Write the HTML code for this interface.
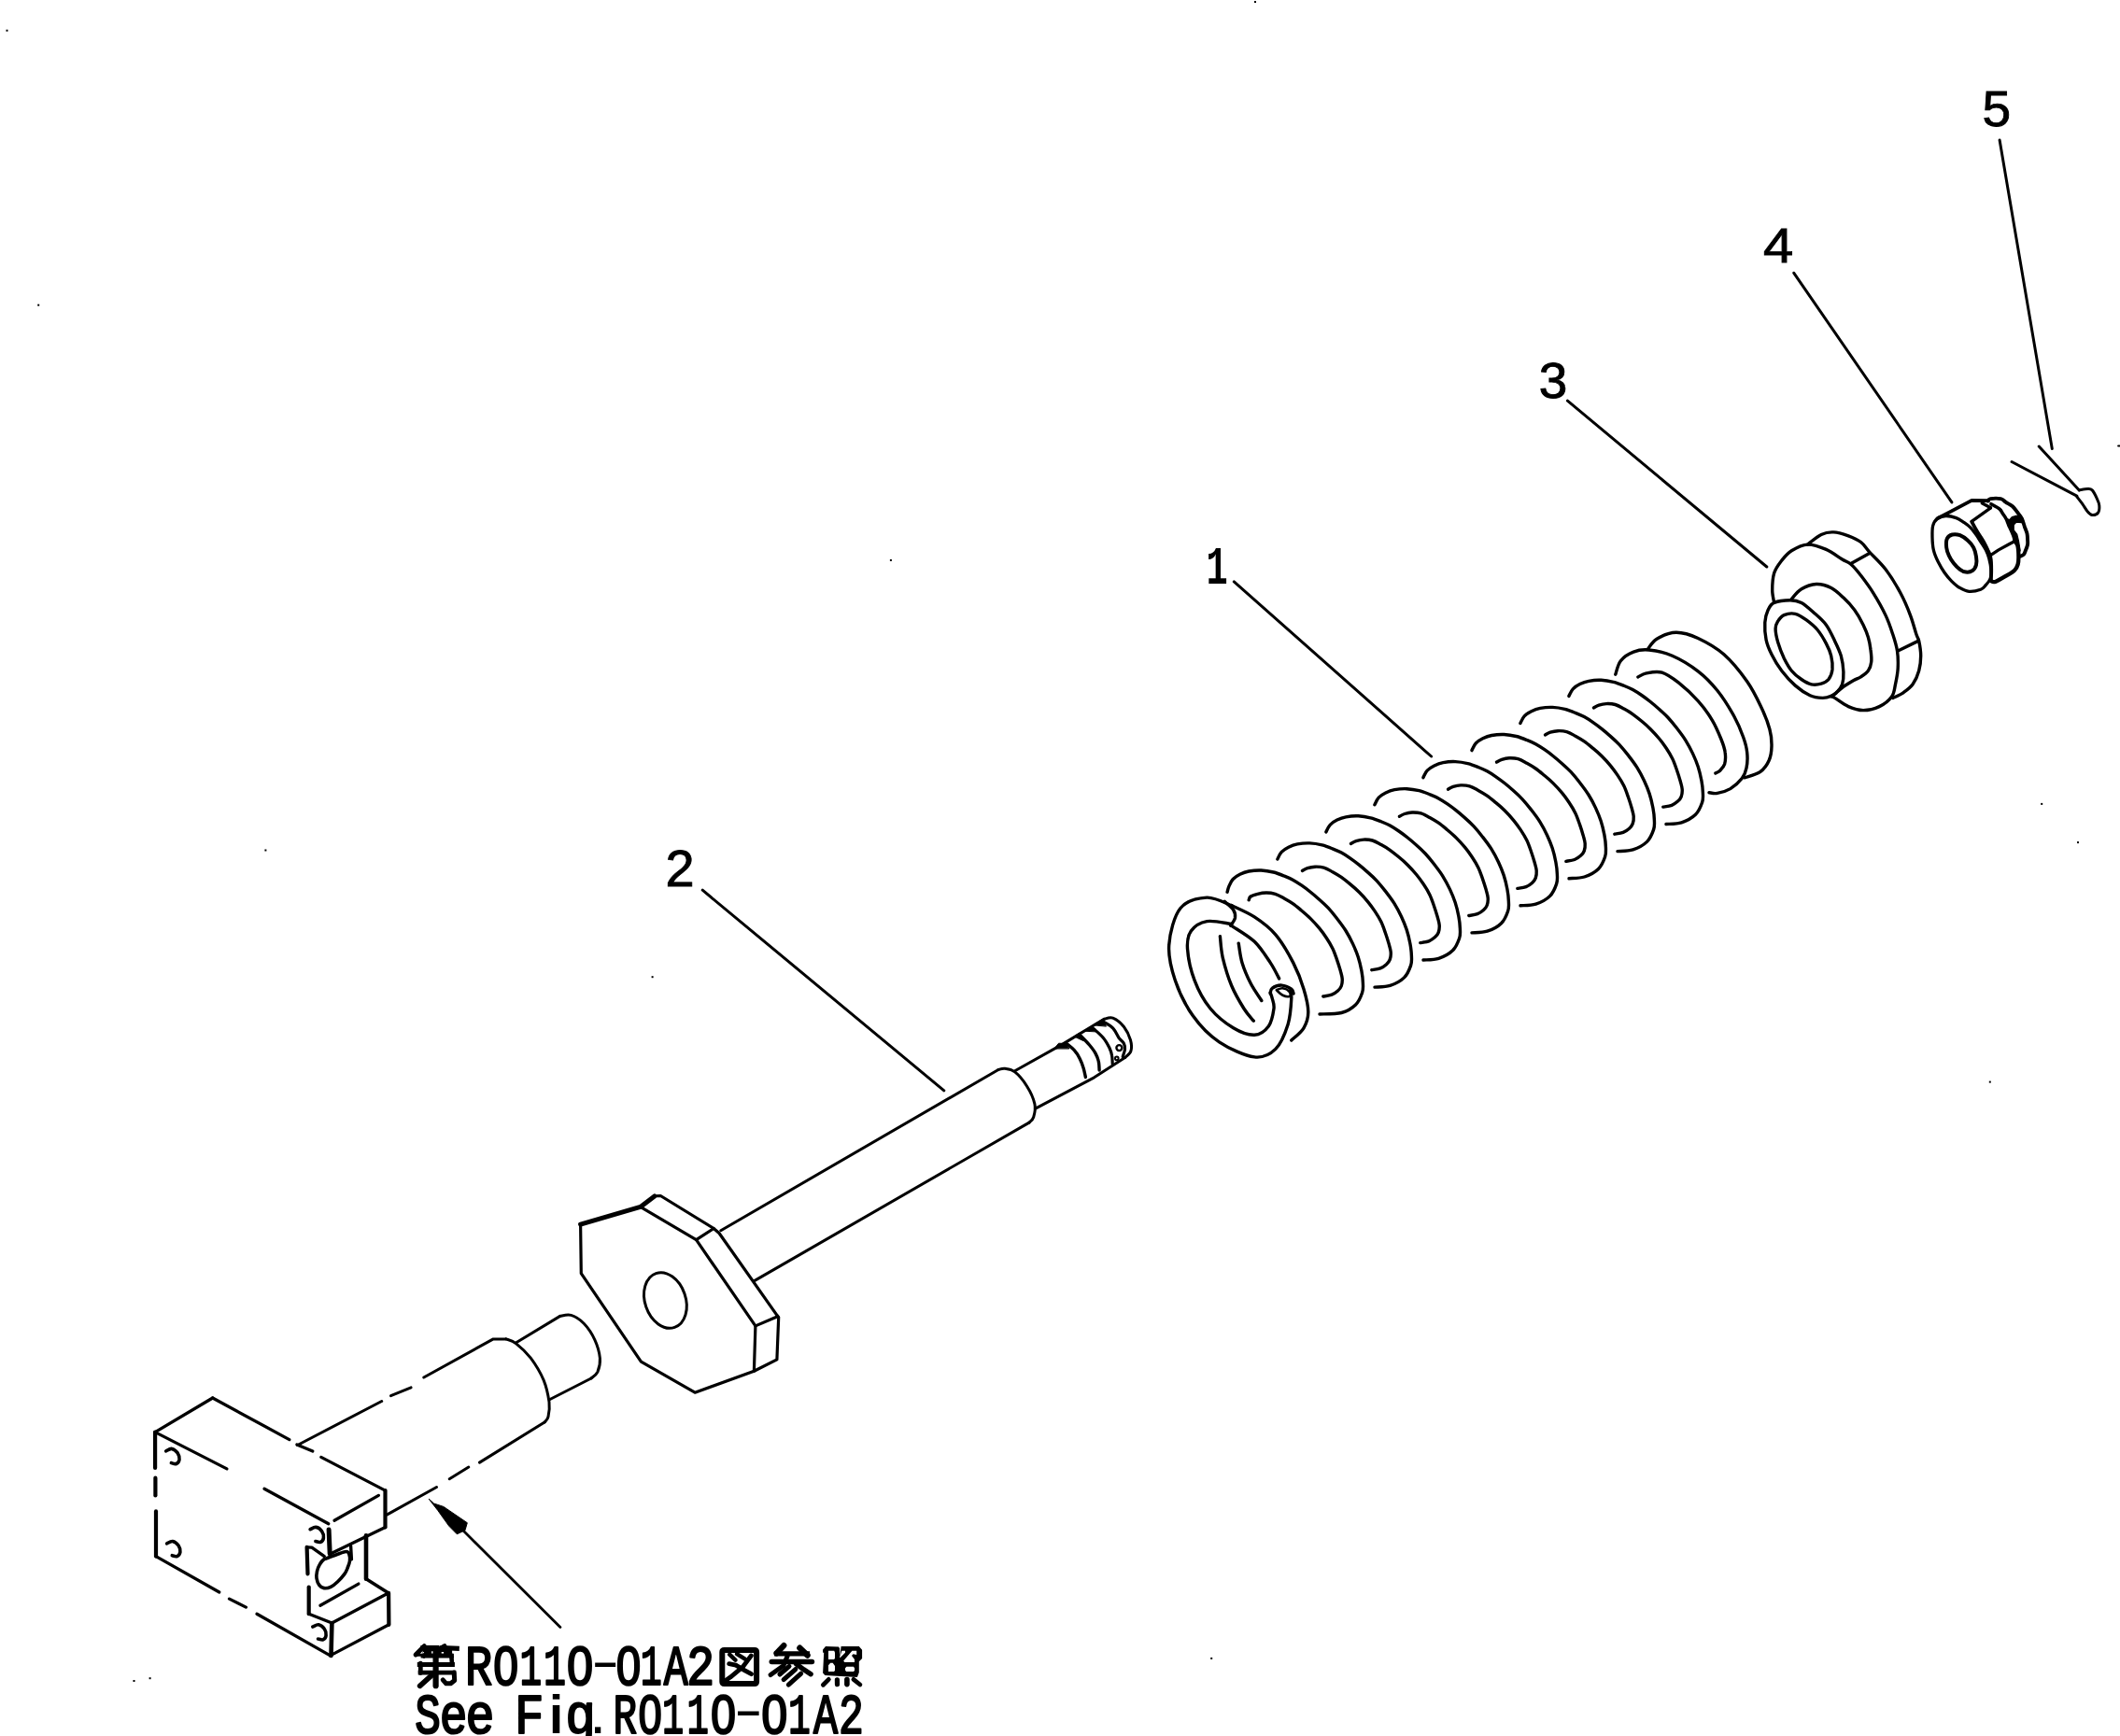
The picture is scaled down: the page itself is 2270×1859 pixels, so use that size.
<!DOCTYPE html>
<html lang="ja"><head><meta charset="utf-8"><title>Parts diagram R0110-01A2</title>
<style>
html,body{margin:0;padding:0;background:#fff}
body{width:2270px;height:1859px;overflow:hidden;font-family:"Liberation Sans",sans-serif}
svg{display:block;will-change:transform}
.l{fill:none;stroke:#000;stroke-width:3.0;stroke-linecap:round;stroke-linejoin:round}
text{fill:#000}
</style></head><body>
<svg width="2270" height="1859" viewBox="0 0 2270 1859">
<rect width="2270" height="1859" fill="#fff"/>
<g class="l">
<path d="M166.1 1533.6L166.1 1572.0" stroke-width="4.2"/>
<path d="M166.4 1582.7L166.4 1601.4" stroke-width="4.2"/>
<path d="M167.0 1618.4L167.0 1666.6" stroke-width="4.2"/>
<path d="M166.1 1533.6L227.7 1497.0" stroke-width="3.3"/>
<path d="M227.7 1497.0L309.8 1541.6" stroke-width="3.3"/>
<path d="M317.9 1547.0L334.8 1554.1" stroke-width="3.3"/>
<path d="M343.8 1560.4L412.5 1596.1" stroke-width="3.3"/>
<path d="M166.1 1533.6L242.9 1572.9" stroke-width="3.3"/>
<path d="M283.0 1594.3L351.8 1631.8" stroke-width="3.3"/>
<path d="M167.0 1666.6L234.8 1705.0" stroke-width="3.3"/>
<path d="M245.5 1712.1L263.4 1721.1" stroke-width="3.3"/>
<path d="M275.0 1728.2L353.6 1772.9" stroke-width="3.3"/>
<path d="M412.5 1596.1L412.5 1635.4" stroke-width="4.2"/>
<path d="M412.5 1635.4L353.6 1663.9" stroke-width="3.3"/>
<path d="M358.0 1628.2L405.4 1601.4" stroke-width="3.3"/>
<path d="M352.1 1638.0L353.2 1663.9" stroke-width="5.0"/>
<path d="M329.5 1685.4L328.6 1656.8" stroke-width="4.2"/>
<path d="M328.6 1656.8L333.9 1657.1L347.3 1666.6" stroke-width="3.3"/>
<path d="M330.7 1699.6L330.7 1728.2" stroke-width="4.2"/>
<path d="M330.7 1728.2L355.4 1738.0" stroke-width="3.3"/>
<path d="M355.4 1738.0L414.3 1706.8" stroke-width="3.3"/>
<path d="M416.1 1705.9L416.4 1739.8" stroke-width="4.2"/>
<path d="M416.4 1739.8L353.6 1772.9" stroke-width="3.3"/>
<path d="M355.4 1738.0L354.5 1772.9" stroke-width="4.6"/>
<path d="M392.0 1644.3L392.0 1690.7" stroke-width="4.6"/>
<path d="M392.0 1690.7L416.1 1705.9" stroke-width="3.6"/>
<path d="M342.9 1719.3L383.9 1696.1" stroke-width="3.3"/>
<path d="M349.6 1668.8C352.1 1667.9 358.1 1665.5 361.6 1664.2C365.1 1663.0 368.8 1661.5 370.8 1661.5C372.9 1661.5 373.2 1662.5 373.8 1664.2C374.4 1665.9 374.9 1669.0 374.5 1671.6C374.2 1674.2 372.7 1677.6 371.8 1679.9C370.8 1682.2 370.7 1683.1 369.0 1685.4C367.3 1687.7 364.1 1691.4 361.6 1693.7C359.2 1696.0 356.7 1698.1 354.2 1699.3C351.8 1700.4 348.9 1701.0 346.9 1700.6C344.8 1700.3 343.1 1699.2 341.8 1697.4C340.5 1695.7 339.4 1692.5 339.0 1690.0C338.6 1687.6 339.0 1685.1 339.5 1682.7C340.0 1680.2 341.0 1677.5 342.3 1675.3C343.5 1673.1 345.6 1670.8 346.9 1669.8C348.1 1668.7 347.2 1669.8 349.6 1668.8Z" stroke-width="3.6"/>
<path d="M375.6 1655.5L376.4 1669.8" stroke-width="3.4"/>
<path d="M177.7 1553.8C178.7 1553.4 181.8 1551.1 183.9 1551.4C186.0 1551.8 188.8 1554.0 190.2 1555.9C191.5 1557.8 192.2 1561.1 192.0 1563.0C191.7 1565.0 190.2 1566.9 188.8 1567.5C187.3 1568.1 184.3 1566.8 183.4 1566.6" stroke-width="3.6"/>
<path d="M178.6 1652.9C179.6 1652.5 182.7 1650.2 184.8 1650.5C186.9 1650.9 189.7 1653.1 191.1 1655.0C192.4 1656.9 193.1 1660.2 192.9 1662.1C192.6 1664.1 191.1 1666.0 189.6 1666.6C188.2 1667.2 185.2 1665.9 184.3 1665.7" stroke-width="3.6"/>
<path d="M332.1 1637.7C333.2 1637.3 336.3 1635.0 338.4 1635.4C340.5 1635.7 343.3 1637.9 344.6 1639.8C346.0 1641.8 346.7 1645.0 346.4 1647.0C346.2 1648.9 344.6 1650.8 343.2 1651.4C341.8 1652.0 338.8 1650.7 337.9 1650.5" stroke-width="3.6"/>
<path d="M334.8 1742.1C335.9 1741.8 339.0 1739.5 341.1 1739.8C343.2 1740.2 346.0 1742.4 347.3 1744.3C348.7 1746.2 349.3 1749.5 349.1 1751.4C348.9 1753.4 347.3 1755.3 345.9 1755.9C344.5 1756.5 341.4 1755.1 340.5 1755.0" stroke-width="3.6"/>
<path d="M318.6 1547.5L408.7 1500.5"/>
<path d="M418.5 1494.6L440.1 1485.8"/>
<path d="M453.8 1475.0L528.2 1433.9L541.9 1433.9"/>
<path d="M541.9 1433.9C543.7 1434.7 548.3 1435.3 552.7 1438.8C557.1 1442.2 563.5 1447.9 568.4 1454.4C573.3 1461.0 578.8 1470.1 582.1 1477.9C585.3 1485.8 587.1 1494.9 588.0 1501.4C588.8 1508.0 587.8 1513.5 587.0 1517.1C586.2 1520.7 583.7 1522.0 583.1 1523.0"/>
<path d="M583.1 1523.0L513.5 1566.1"/>
<path d="M501.8 1571.0L481.2 1583.7"/>
<path d="M467.5 1592.5L414.6 1621.9"/>
<path d="M552.7 1437.8L599.7 1409.4"/>
<path d="M599.7 1409.4C601.7 1409.2 607.2 1407.1 611.5 1408.4C615.7 1409.7 620.9 1412.8 625.2 1417.2C629.4 1421.6 634.1 1428.6 636.9 1434.8C639.8 1441.1 641.9 1448.7 642.4 1454.4C642.9 1460.2 641.4 1465.5 639.9 1469.1C638.3 1472.7 634.1 1474.8 633.0 1476.0"/>
<path d="M633.0 1476.0L588.9 1498.5"/>
<path d="M459.4 1605.3L464.6 1610.0L474.9 1613.4L500.3 1630.7L498.0 1638.7L489.3 1642.8L480.7 1634.1L469.2 1618.0Z" stroke-width="1.0" fill="#000"/>
<path d="M494.5 1637.6L599.9 1742.4" stroke-width="2.8"/>
<path d="M621.6 1311.1L685.7 1292.4L700.8 1280.9" stroke-width="5.0"/>
<path d="M700.8 1280.9L707.3 1280.5L764.2 1315.5L770.0 1320.5L831.9 1408.4L833.7 1410.5L831.9 1455.9L807.4 1468.2L744.1 1491.2L686.4 1458.1L622.3 1363.7L621.6 1311.1" stroke-width="3.2"/>
<path d="M685.7 1292.4L745.5 1327.7L808.9 1419.9L807.4 1468.2" stroke-width="3.2"/>
<path d="M745.5 1327.7L764.2 1315.5" stroke-width="3.2"/>
<path d="M808.9 1419.9L832.6 1409.8" stroke-width="3.2"/>
<ellipse cx="712.4" cy="1392.5" rx="21.8" ry="30.6" transform="rotate(-19.0 712.4 1392.5)"/>
<path d="M771.8 1317.7L1069.0 1145.5"/>
<path d="M1069.0 1145.5C1070.1 1145.3 1073.1 1143.9 1076.0 1144.3C1079.0 1144.7 1082.7 1144.7 1086.7 1147.9C1090.6 1151.0 1096.1 1157.5 1099.6 1163.2C1103.2 1168.9 1106.7 1176.6 1107.9 1182.1C1109.1 1187.6 1107.7 1192.9 1106.7 1196.2C1105.7 1199.6 1102.8 1201.1 1102.0 1202.1"/>
<path d="M1102.0 1202.1L807.2 1371.9"/>
<path d="M1086.7 1146.7L1137.4 1118.4L1182.2 1091.3"/>
<path d="M1109.1 1186.8L1171.6 1153.8L1204.6 1132.5"/>
<path d="M1182.2 1091.3C1183.7 1091.1 1188.1 1088.7 1191.6 1090.1C1195.1 1091.5 1200.3 1095.6 1203.4 1099.5C1206.5 1103.5 1209.2 1109.4 1210.5 1113.7C1211.7 1118.0 1211.9 1122.3 1210.9 1125.5C1210.0 1128.6 1205.6 1131.4 1204.6 1132.5"/>
<path d="M1142.3 1117.8C1143.6 1119.0 1148.0 1122.1 1150.3 1124.7C1152.6 1127.3 1154.5 1130.2 1156.1 1133.4C1157.7 1136.5 1159.1 1140.4 1160.1 1143.7C1161.2 1147.1 1162.0 1151.9 1162.4 1153.5" stroke-width="3.4"/>
<path d="M1157.2 1109.2C1158.8 1110.8 1163.9 1115.9 1166.5 1119.0C1169.0 1122.0 1171.2 1124.7 1172.8 1127.6C1174.4 1130.5 1175.5 1133.2 1176.2 1136.2C1177.0 1139.3 1177.0 1144.4 1177.1 1146.0" stroke-width="3.4"/>
<path d="M1171.1 1101.7C1172.8 1103.3 1178.6 1108.1 1181.4 1111.5C1184.2 1114.8 1186.2 1118.7 1187.8 1121.8C1189.3 1125.0 1190.1 1127.6 1190.6 1130.5C1191.2 1133.4 1191.1 1137.7 1191.2 1139.1" stroke-width="3.2"/>
<path d="M1182.0 1094.2C1183.6 1095.3 1189.1 1098.2 1191.8 1101.1C1194.5 1104.0 1196.2 1108.8 1198.1 1111.5C1200.1 1114.2 1202.3 1115.2 1203.3 1117.2C1204.4 1119.3 1204.7 1121.2 1204.5 1123.6C1204.3 1126.0 1202.5 1130.3 1202.2 1131.6" stroke-width="3.2"/>
<path d="M1129.0 1122.7L1133.6 1117.2L1141.1 1117.5L1144.6 1122.7Z" stroke-width="1.0" fill="#000"/>
<path d="M1150.3 1109.7L1155.5 1106.3L1157.2 1110.3L1160.1 1114.4Z" stroke-width="1.0" fill="#000"/>
<path d="M1160.7 1104.0L1170.5 1098.8L1171.1 1102.3L1173.4 1104.6Z" stroke-width="1.0" fill="#000"/>
<path d="M1170.5 1097.6L1179.7 1091.9L1182.0 1095.3L1184.3 1098.8Z" stroke-width="1.0" fill="#000"/>
<circle cx="1198.4" cy="1122.1" r="3.0" stroke-width="2.4"/>
<circle cx="1195.8" cy="1133.4" r="1.8" stroke-width="2.0"/>
<path d="M1318.7 969.6C1314.3 968.2 1301.4 960.7 1292.3 961.1C1283.1 961.6 1270.7 964.0 1264.0 972.5C1257.2 980.9 1252.6 999.2 1251.7 1012.1C1250.8 1025.0 1254.1 1037.2 1258.3 1049.8C1262.5 1062.4 1269.3 1076.5 1277.2 1087.5C1285.0 1098.6 1294.5 1108.5 1305.5 1115.8C1316.5 1123.2 1333.1 1130.6 1343.2 1131.9C1353.3 1133.1 1359.9 1129.2 1365.8 1123.4C1371.8 1117.6 1376.2 1106.1 1379.1 1097.0C1381.9 1087.9 1382.5 1074.7 1382.8 1068.7C1383.1 1062.7 1381.3 1062.4 1380.9 1061.1" stroke-width="3.4"/>
<path d="M1318.7 989.4C1314.3 989.0 1299.5 985.3 1292.3 986.6C1285.0 987.9 1278.7 992.1 1275.3 997.0C1271.8 1001.9 1270.9 1007.0 1271.5 1015.8C1272.1 1024.7 1275.0 1039.1 1279.1 1049.8C1283.1 1060.5 1289.1 1071.5 1296.0 1080.0C1303.0 1088.5 1312.7 1096.0 1320.6 1100.8C1328.4 1105.5 1336.9 1108.6 1343.2 1108.3C1349.5 1108.0 1354.8 1103.6 1358.3 1098.9C1361.8 1094.2 1363.3 1085.0 1364.0 1080.0C1364.6 1075.0 1362.7 1071.5 1362.1 1068.7C1361.4 1065.8 1360.5 1064.0 1360.2 1063.0" stroke-width="3.4"/>
<path d="M1360.2 1064.0C1360.5 1063.0 1360.0 1059.8 1362.1 1058.3C1364.1 1056.8 1369.0 1054.9 1372.5 1055.1C1375.9 1055.3 1380.7 1057.8 1382.8 1059.2C1384.9 1060.7 1384.7 1063.2 1385.1 1064.0" stroke-width="3.4"/>
<path d="M1366.8 1060.2C1367.9 1059.9 1371.0 1058.0 1373.4 1058.3C1375.8 1058.6 1379.7 1060.7 1380.9 1062.1C1382.2 1063.5 1382.2 1066.2 1380.9 1066.8C1379.7 1067.4 1375.8 1066.9 1373.4 1065.8C1371.0 1064.7 1367.9 1061.1 1366.8 1060.2" stroke-width="2.6"/>
<path d="M1311.1 965.3C1312.7 966.8 1318.7 971.4 1320.6 974.3C1322.5 977.3 1322.9 980.0 1322.5 982.8C1322.0 985.7 1318.5 989.9 1317.7 991.3" stroke-width="3.4"/>
<path d="M1318.7 969.6C1322.8 971.7 1335.3 976.7 1343.2 981.9C1351.1 987.1 1358.9 992.6 1365.8 1000.8C1372.8 1008.9 1379.7 1021.2 1384.7 1030.9C1389.7 1040.7 1393.4 1050.4 1396.0 1059.2C1398.7 1068.1 1400.8 1076.9 1400.8 1083.8C1400.8 1090.7 1399.0 1095.7 1396.0 1100.8C1393.1 1105.8 1385.0 1111.8 1382.8 1114.0" stroke-width="3.4"/>
<path d="M1318.7 991.3C1322.8 994.2 1336.3 1001.7 1343.2 1008.3C1350.1 1014.9 1355.8 1024.3 1360.2 1030.9C1364.6 1037.5 1368.1 1045.1 1369.6 1047.9" stroke-width="3.4"/>
<path d="M1306.4 1002.6C1306.9 1006.4 1307.2 1016.5 1309.2 1025.3C1311.3 1034.1 1314.9 1046.4 1318.7 1055.5C1322.5 1064.6 1328.0 1073.7 1331.9 1080.0C1335.8 1086.3 1340.5 1091.0 1342.3 1093.2" stroke-width="3.4"/>
<path d="M1326.2 1010.2C1326.9 1013.6 1327.8 1023.7 1330.0 1030.9C1332.2 1038.2 1336.0 1046.8 1339.4 1053.6C1342.9 1060.3 1348.9 1068.5 1350.8 1071.5" stroke-width="3.4"/>
<path d="M1314.1 955.2C1314.4 954.2 1314.9 951.4 1315.9 949.1C1316.9 946.8 1318.2 943.6 1320.2 941.5C1322.2 939.4 1324.9 937.7 1327.7 936.3C1330.5 934.9 1333.4 933.7 1337.2 933.0C1341.0 932.3 1346.0 931.8 1350.4 932.0C1354.8 932.2 1359.5 933.0 1363.6 934.0C1367.7 935.0 1371.5 936.6 1374.9 938.0C1378.4 939.4 1381.2 940.5 1384.3 942.2C1387.4 943.9 1390.6 946.0 1393.8 948.2C1397.0 950.4 1400.1 952.7 1403.2 955.2C1406.3 957.7 1409.4 960.4 1412.6 963.2C1415.8 966.0 1418.9 968.8 1422.1 972.2C1425.2 975.6 1428.4 979.5 1431.5 983.5C1434.6 987.5 1438.1 992.0 1440.9 996.5C1443.7 1001.0 1446.3 1005.9 1448.5 1010.6C1450.7 1015.3 1452.6 1019.9 1454.2 1024.7C1455.8 1029.5 1457.0 1034.9 1457.9 1039.6C1458.8 1044.3 1459.3 1049.1 1459.4 1053.0C1459.5 1056.9 1459.9 1059.2 1458.6 1063.0C1457.3 1066.8 1455.2 1072.4 1451.5 1076.0C1447.8 1079.6 1442.9 1082.8 1436.5 1084.5C1430.1 1086.2 1416.9 1085.8 1413.0 1086.0" stroke-width="3.4"/>
<path d="M1337.2 963.8C1337.5 963.2 1337.5 961.1 1339.1 960.0C1340.7 958.9 1343.8 958.0 1346.6 957.3C1349.4 956.6 1352.8 956.0 1356.0 956.0C1359.2 956.0 1362.3 956.4 1365.5 957.4C1368.7 958.4 1371.8 960.3 1374.9 962.0C1378.0 963.7 1381.2 965.5 1384.3 967.7C1387.4 969.9 1390.6 972.6 1393.8 975.2C1397.0 977.9 1400.1 980.5 1403.2 983.6C1406.3 986.7 1409.8 990.5 1412.6 993.9C1415.4 997.3 1417.8 1000.6 1420.2 1004.2C1422.6 1007.8 1424.9 1011.5 1426.8 1015.4C1428.7 1019.3 1430.1 1023.6 1431.5 1027.6C1432.9 1031.6 1434.3 1036.2 1435.3 1039.6C1436.2 1043.0 1437.0 1045.3 1437.2 1048.0C1437.4 1050.7 1437.0 1053.8 1436.2 1056.0C1435.4 1058.2 1434.2 1059.5 1432.5 1061.0C1430.8 1062.5 1428.6 1064.2 1426.0 1065.2C1423.4 1066.2 1418.3 1066.7 1416.8 1067.0" stroke-width="3.4"/>
<path d="M1367.9 920.0C1368.6 918.7 1370.2 914.5 1372.2 912.4C1374.2 910.3 1376.9 908.6 1379.7 907.2C1382.5 905.8 1385.4 904.6 1389.2 903.9C1393.0 903.2 1398.0 902.7 1402.4 902.9C1406.8 903.1 1411.5 903.9 1415.6 904.9C1419.7 905.9 1423.5 907.5 1426.9 908.9C1430.4 910.3 1433.2 911.4 1436.3 913.1C1439.4 914.8 1442.6 916.9 1445.8 919.1C1449.0 921.3 1452.1 923.6 1455.2 926.1C1458.3 928.6 1461.4 931.3 1464.6 934.1C1467.8 936.9 1470.9 939.7 1474.1 943.1C1477.2 946.5 1480.4 950.4 1483.5 954.4C1486.6 958.4 1490.1 962.9 1492.9 967.4C1495.7 971.9 1498.3 976.8 1500.5 981.5C1502.7 986.2 1504.6 990.8 1506.2 995.6C1507.8 1000.4 1509.0 1005.8 1509.9 1010.5C1510.8 1015.2 1511.3 1020.0 1511.4 1023.9C1511.5 1027.8 1511.9 1030.1 1510.6 1033.9C1509.3 1037.7 1507.2 1043.3 1503.5 1046.9C1499.8 1050.5 1493.8 1053.7 1488.5 1055.4C1483.2 1057.1 1474.8 1056.8 1472.0 1057.1" stroke-width="3.4"/>
<path d="M1394.5 932.5C1395.4 932.0 1397.8 930.4 1400.0 929.7C1402.2 929.0 1405.1 928.3 1408.0 928.2C1410.9 928.1 1414.3 928.2 1417.5 929.1C1420.7 930.0 1423.8 932.0 1426.9 933.7C1430.0 935.4 1433.2 937.2 1436.3 939.4C1439.4 941.6 1442.6 944.2 1445.8 946.9C1449.0 949.5 1452.1 952.2 1455.2 955.3C1458.3 958.4 1461.8 962.2 1464.6 965.6C1467.4 969.0 1469.8 972.3 1472.2 975.9C1474.6 979.5 1476.9 983.2 1478.8 987.1C1480.7 991.0 1482.1 995.3 1483.5 999.3C1484.9 1003.3 1486.3 1007.9 1487.3 1011.3C1488.2 1014.7 1489.0 1017.0 1489.2 1019.7C1489.4 1022.4 1489.0 1025.5 1488.2 1027.7C1487.4 1029.9 1486.2 1031.2 1484.5 1032.7C1482.8 1034.2 1480.6 1035.9 1478.0 1036.9C1475.4 1037.9 1470.3 1038.4 1468.8 1038.7" stroke-width="3.4"/>
<path d="M1419.9 890.9C1420.6 889.6 1422.2 885.4 1424.2 883.3C1426.2 881.2 1428.9 879.5 1431.7 878.1C1434.5 876.7 1437.4 875.5 1441.2 874.8C1445.0 874.1 1450.0 873.6 1454.4 873.8C1458.8 874.0 1463.5 874.8 1467.6 875.8C1471.7 876.8 1475.5 878.4 1478.9 879.8C1482.4 881.2 1485.2 882.3 1488.3 884.0C1491.4 885.7 1494.6 887.8 1497.8 890.0C1501.0 892.2 1504.1 894.5 1507.2 897.0C1510.3 899.5 1513.4 902.2 1516.6 905.0C1519.8 907.8 1522.9 910.6 1526.1 914.0C1529.2 917.4 1532.4 921.2 1535.5 925.3C1538.6 929.3 1542.1 933.8 1544.9 938.3C1547.7 942.8 1550.3 947.7 1552.5 952.4C1554.7 957.1 1556.6 961.7 1558.2 966.5C1559.8 971.3 1561.0 976.7 1561.9 981.4C1562.8 986.1 1563.3 990.9 1563.4 994.8C1563.5 998.7 1563.9 1001.0 1562.6 1004.8C1561.3 1008.6 1559.2 1014.2 1555.5 1017.8C1551.8 1021.4 1545.8 1024.6 1540.5 1026.3C1535.2 1028.0 1526.8 1027.7 1524.0 1028.0" stroke-width="3.4"/>
<path d="M1446.5 903.4C1447.4 902.9 1449.8 901.3 1452.0 900.6C1454.2 899.9 1457.1 899.2 1460.0 899.1C1462.9 899.0 1466.3 899.1 1469.5 900.0C1472.7 900.9 1475.8 902.9 1478.9 904.6C1482.0 906.3 1485.2 908.1 1488.3 910.3C1491.4 912.5 1494.6 915.1 1497.8 917.8C1501.0 920.4 1504.1 923.1 1507.2 926.2C1510.3 929.3 1513.8 933.1 1516.6 936.5C1519.4 939.9 1521.8 943.2 1524.2 946.8C1526.6 950.4 1528.9 954.1 1530.8 958.0C1532.7 961.9 1534.1 966.2 1535.5 970.2C1536.9 974.2 1538.3 978.8 1539.3 982.2C1540.2 985.6 1541.0 987.9 1541.2 990.6C1541.4 993.3 1541.0 996.4 1540.2 998.6C1539.4 1000.8 1538.2 1002.1 1536.5 1003.6C1534.8 1005.1 1532.6 1006.8 1530.0 1007.8C1527.4 1008.8 1522.3 1009.3 1520.8 1009.6" stroke-width="3.4"/>
<path d="M1471.9 861.8C1472.6 860.5 1474.2 856.3 1476.2 854.2C1478.2 852.1 1480.9 850.4 1483.7 849.0C1486.5 847.6 1489.4 846.4 1493.2 845.7C1497.0 845.0 1502.0 844.5 1506.4 844.7C1510.8 844.9 1515.5 845.7 1519.6 846.7C1523.7 847.7 1527.5 849.3 1530.9 850.7C1534.4 852.1 1537.2 853.2 1540.3 854.9C1543.4 856.6 1546.6 858.7 1549.8 860.9C1553.0 863.1 1556.1 865.4 1559.2 867.9C1562.3 870.4 1565.4 873.1 1568.6 875.9C1571.8 878.7 1574.9 881.5 1578.1 884.9C1581.2 888.3 1584.4 892.2 1587.5 896.2C1590.6 900.2 1594.1 904.7 1596.9 909.2C1599.7 913.7 1602.3 918.6 1604.5 923.3C1606.7 928.0 1608.6 932.6 1610.2 937.4C1611.8 942.2 1613.0 947.6 1613.9 952.3C1614.8 957.0 1615.3 961.8 1615.4 965.7C1615.5 969.6 1615.9 971.9 1614.6 975.7C1613.3 979.5 1611.2 985.1 1607.5 988.7C1603.8 992.3 1597.8 995.5 1592.5 997.2C1587.2 998.9 1578.8 998.6 1576.0 998.9" stroke-width="3.4"/>
<path d="M1498.5 874.3C1499.4 873.8 1501.8 872.2 1504.0 871.5C1506.2 870.8 1509.1 870.1 1512.0 870.0C1514.9 869.9 1518.3 870.0 1521.5 870.9C1524.7 871.8 1527.8 873.8 1530.9 875.5C1534.0 877.2 1537.2 879.0 1540.3 881.2C1543.4 883.4 1546.6 886.1 1549.8 888.7C1553.0 891.4 1556.1 894.0 1559.2 897.1C1562.3 900.2 1565.8 904.0 1568.6 907.4C1571.4 910.8 1573.8 914.1 1576.2 917.7C1578.6 921.3 1580.9 925.0 1582.8 928.9C1584.7 932.8 1586.1 937.1 1587.5 941.1C1588.9 945.1 1590.3 949.7 1591.3 953.1C1592.2 956.5 1593.0 958.8 1593.2 961.5C1593.4 964.2 1593.0 967.3 1592.2 969.5C1591.4 971.7 1590.2 973.0 1588.5 974.5C1586.8 976.0 1584.6 977.7 1582.0 978.7C1579.4 979.7 1574.3 980.2 1572.8 980.5" stroke-width="3.4"/>
<path d="M1523.9 832.7C1524.6 831.4 1526.2 827.2 1528.2 825.1C1530.2 823.0 1532.9 821.3 1535.7 819.9C1538.5 818.5 1541.4 817.3 1545.2 816.6C1549.0 815.9 1554.0 815.4 1558.4 815.6C1562.8 815.8 1567.5 816.6 1571.6 817.6C1575.7 818.6 1579.5 820.2 1582.9 821.6C1586.4 823.0 1589.2 824.1 1592.3 825.8C1595.4 827.5 1598.6 829.6 1601.8 831.8C1605.0 834.0 1608.1 836.3 1611.2 838.8C1614.3 841.3 1617.4 844.0 1620.6 846.8C1623.8 849.6 1626.9 852.4 1630.1 855.8C1633.2 859.2 1636.4 863.1 1639.5 867.1C1642.6 871.1 1646.1 875.6 1648.9 880.1C1651.7 884.6 1654.3 889.5 1656.5 894.2C1658.7 898.9 1660.6 903.5 1662.2 908.3C1663.8 913.1 1665.0 918.5 1665.9 923.2C1666.8 927.9 1667.3 932.7 1667.4 936.6C1667.5 940.5 1667.9 942.8 1666.6 946.6C1665.3 950.4 1663.2 956.0 1659.5 959.6C1655.8 963.2 1649.8 966.4 1644.5 968.1C1639.2 969.8 1630.8 969.5 1628.0 969.8" stroke-width="3.4"/>
<path d="M1550.5 845.2C1551.4 844.7 1553.8 843.1 1556.0 842.4C1558.2 841.7 1561.1 841.0 1564.0 840.9C1566.9 840.8 1570.3 840.9 1573.5 841.8C1576.7 842.7 1579.8 844.7 1582.9 846.4C1586.0 848.1 1589.2 849.9 1592.3 852.1C1595.4 854.3 1598.6 857.0 1601.8 859.6C1605.0 862.2 1608.1 864.9 1611.2 868.0C1614.3 871.1 1617.8 874.9 1620.6 878.3C1623.4 881.7 1625.8 885.0 1628.2 888.6C1630.6 892.2 1632.9 895.9 1634.8 899.8C1636.7 903.7 1638.1 908.0 1639.5 912.0C1640.9 916.0 1642.3 920.6 1643.3 924.0C1644.2 927.4 1645.0 929.7 1645.2 932.4C1645.4 935.1 1645.0 938.2 1644.2 940.4C1643.4 942.6 1642.2 943.9 1640.5 945.4C1638.8 946.9 1636.6 948.6 1634.0 949.6C1631.4 950.6 1626.3 951.1 1624.8 951.4" stroke-width="3.4"/>
<path d="M1575.9 803.6C1576.6 802.3 1578.2 798.1 1580.2 796.0C1582.2 793.9 1584.9 792.2 1587.7 790.8C1590.5 789.4 1593.4 788.2 1597.2 787.5C1601.0 786.8 1606.0 786.3 1610.4 786.5C1614.8 786.7 1619.5 787.5 1623.6 788.5C1627.7 789.5 1631.5 791.1 1634.9 792.5C1638.4 793.9 1641.2 795.0 1644.3 796.7C1647.4 798.4 1650.6 800.5 1653.8 802.7C1657.0 804.9 1660.1 807.2 1663.2 809.7C1666.3 812.2 1669.4 814.9 1672.6 817.7C1675.8 820.5 1678.9 823.3 1682.1 826.7C1685.2 830.1 1688.4 834.0 1691.5 838.0C1694.6 842.0 1698.1 846.5 1700.9 851.0C1703.7 855.5 1706.3 860.4 1708.5 865.1C1710.7 869.8 1712.6 874.4 1714.2 879.2C1715.8 884.0 1717.0 889.4 1717.9 894.1C1718.8 898.8 1719.3 903.6 1719.4 907.5C1719.5 911.4 1719.9 913.7 1718.6 917.5C1717.3 921.3 1715.2 926.9 1711.5 930.5C1707.8 934.1 1701.8 937.3 1696.5 939.0C1691.2 940.7 1682.8 940.4 1680.0 940.7" stroke-width="3.4"/>
<path d="M1602.5 816.1C1603.4 815.6 1605.8 814.0 1608.0 813.3C1610.2 812.6 1613.1 811.9 1616.0 811.8C1618.9 811.7 1622.3 811.8 1625.5 812.7C1628.7 813.6 1631.8 815.6 1634.9 817.3C1638.0 819.0 1641.2 820.8 1644.3 823.0C1647.4 825.2 1650.6 827.9 1653.8 830.5C1657.0 833.1 1660.1 835.8 1663.2 838.9C1666.3 842.0 1669.8 845.8 1672.6 849.2C1675.4 852.6 1677.8 855.9 1680.2 859.5C1682.6 863.1 1684.9 866.8 1686.8 870.7C1688.7 874.6 1690.1 878.9 1691.5 882.9C1692.9 886.9 1694.3 891.5 1695.3 894.9C1696.2 898.3 1697.0 900.6 1697.2 903.3C1697.4 906.0 1697.0 909.1 1696.2 911.3C1695.4 913.5 1694.2 914.8 1692.5 916.3C1690.8 917.8 1688.6 919.5 1686.0 920.5C1683.4 921.5 1678.3 922.0 1676.8 922.3" stroke-width="3.4"/>
<path d="M1627.9 774.5C1628.6 773.2 1630.2 769.0 1632.2 766.9C1634.2 764.8 1636.9 763.1 1639.7 761.7C1642.5 760.3 1645.4 759.1 1649.2 758.4C1653.0 757.7 1658.0 757.2 1662.4 757.4C1666.8 757.6 1671.5 758.4 1675.6 759.4C1679.7 760.4 1683.5 762.0 1686.9 763.4C1690.4 764.8 1693.2 765.9 1696.3 767.6C1699.4 769.3 1702.6 771.4 1705.8 773.6C1709.0 775.8 1712.1 778.1 1715.2 780.6C1718.3 783.1 1721.4 785.8 1724.6 788.6C1727.8 791.4 1730.9 794.2 1734.1 797.6C1737.2 801.0 1740.4 804.9 1743.5 808.9C1746.6 812.9 1750.1 817.4 1752.9 821.9C1755.7 826.4 1758.3 831.3 1760.5 836.0C1762.7 840.7 1764.6 845.3 1766.2 850.1C1767.8 854.9 1769.0 860.3 1769.9 865.0C1770.8 869.7 1771.3 874.5 1771.4 878.4C1771.5 882.3 1771.9 884.6 1770.6 888.4C1769.3 892.2 1767.2 897.8 1763.5 901.4C1759.8 905.0 1753.8 908.2 1748.5 909.9C1743.2 911.6 1734.8 911.3 1732.0 911.6" stroke-width="3.4"/>
<path d="M1654.5 787.0C1655.4 786.5 1657.8 784.9 1660.0 784.2C1662.2 783.5 1665.1 782.8 1668.0 782.7C1670.9 782.6 1674.3 782.7 1677.5 783.6C1680.7 784.5 1683.8 786.5 1686.9 788.2C1690.0 789.9 1693.2 791.7 1696.3 793.9C1699.4 796.1 1702.6 798.8 1705.8 801.4C1709.0 804.0 1712.1 806.7 1715.2 809.8C1718.3 812.9 1721.8 816.7 1724.6 820.1C1727.4 823.5 1729.8 826.8 1732.2 830.4C1734.6 834.0 1736.9 837.7 1738.8 841.6C1740.7 845.5 1742.1 849.8 1743.5 853.8C1744.9 857.8 1746.3 862.4 1747.3 865.8C1748.2 869.2 1749.0 871.5 1749.2 874.2C1749.4 876.9 1749.0 880.0 1748.2 882.2C1747.4 884.4 1746.2 885.7 1744.5 887.2C1742.8 888.7 1740.6 890.4 1738.0 891.4C1735.4 892.4 1730.3 892.9 1728.8 893.2" stroke-width="3.4"/>
<path d="M1679.9 745.4C1680.6 744.1 1682.2 739.9 1684.2 737.8C1686.2 735.7 1688.9 734.0 1691.7 732.6C1694.5 731.2 1697.4 730.0 1701.2 729.3C1705.0 728.6 1710.0 728.1 1714.4 728.3C1718.8 728.5 1723.5 729.3 1727.6 730.3C1731.7 731.3 1735.5 732.9 1738.9 734.3C1742.4 735.7 1745.2 736.8 1748.3 738.5C1751.4 740.2 1754.6 742.3 1757.8 744.5C1761.0 746.7 1764.1 749.0 1767.2 751.5C1770.3 754.0 1773.4 756.7 1776.6 759.5C1779.8 762.3 1782.9 765.1 1786.1 768.5C1789.2 771.9 1792.4 775.8 1795.5 779.8C1798.6 783.8 1802.1 788.3 1804.9 792.8C1807.7 797.3 1810.3 802.2 1812.5 806.9C1814.7 811.6 1816.6 816.2 1818.2 821.0C1819.8 825.8 1821.0 831.2 1821.9 835.9C1822.8 840.6 1823.3 845.4 1823.4 849.3C1823.5 853.2 1823.9 855.5 1822.6 859.3C1821.3 863.1 1819.2 868.7 1815.5 872.3C1811.8 875.9 1805.8 879.1 1800.5 880.8C1795.2 882.5 1786.8 882.2 1784.0 882.5" stroke-width="3.4"/>
<path d="M1706.5 757.9C1707.4 757.4 1709.8 755.8 1712.0 755.1C1714.2 754.4 1717.1 753.7 1720.0 753.6C1722.9 753.5 1726.3 753.6 1729.5 754.5C1732.7 755.4 1735.8 757.4 1738.9 759.1C1742.0 760.8 1745.2 762.6 1748.3 764.8C1751.4 767.0 1754.6 769.6 1757.8 772.3C1761.0 774.9 1764.1 777.6 1767.2 780.7C1770.3 783.8 1773.8 787.6 1776.6 791.0C1779.4 794.4 1781.8 797.7 1784.2 801.3C1786.6 804.9 1788.9 808.6 1790.8 812.5C1792.7 816.4 1794.1 820.7 1795.5 824.7C1796.9 828.7 1798.3 833.3 1799.3 836.7C1800.2 840.1 1801.0 842.4 1801.2 845.1C1801.4 847.8 1801.0 850.9 1800.2 853.1C1799.4 855.3 1798.2 856.6 1796.5 858.1C1794.8 859.6 1792.6 861.3 1790.0 862.3C1787.4 863.3 1782.3 863.8 1780.8 864.1" stroke-width="3.4"/>
<path d="M1729.8 722.2C1730.7 719.8 1732.1 711.8 1735.3 707.7C1738.5 703.7 1744.0 700.0 1749.1 698.1C1754.2 696.1 1758.8 695.3 1765.7 696.0C1772.6 696.7 1781.8 698.4 1790.6 702.2C1799.3 706.0 1810.2 712.6 1818.2 718.8C1826.3 725.0 1832.5 731.5 1838.9 739.5C1845.4 747.6 1852.3 758.9 1856.9 767.2C1861.5 775.5 1864.3 782.8 1866.6 789.3C1868.9 795.7 1870.2 800.3 1870.7 805.9C1871.3 811.4 1871.0 817.8 1870.0 822.4C1869.1 827.1 1868.1 829.8 1865.2 833.5C1862.3 837.2 1857.1 841.9 1852.8 844.6C1848.4 847.2 1842.8 848.7 1838.9 849.4C1835.1 850.1 1831.5 848.8 1830.0 848.7" stroke-width="3.4"/>
<path d="M1764.3 695.3C1765.9 693.4 1768.9 687.2 1774.0 684.2C1779.1 681.2 1787.3 677.4 1794.7 677.3C1802.1 677.2 1809.7 679.6 1818.2 683.5C1826.7 687.5 1837.1 693.1 1845.9 700.8C1854.6 708.5 1864.1 720.4 1870.7 729.8C1877.4 739.3 1881.9 749.0 1885.9 757.5C1890.0 766.0 1893.1 774.1 1894.9 781.0C1896.8 787.9 1897.1 793.4 1897.0 798.9C1896.9 804.5 1896.3 809.5 1894.2 814.2C1892.2 818.8 1888.9 823.5 1884.6 826.6C1880.2 829.7 1870.7 831.8 1868.0 832.8" stroke-width="3.4"/>
<path d="M1753.9 725.0C1755.4 724.3 1758.7 721.7 1762.9 720.9C1767.2 720.1 1773.8 718.4 1779.5 720.2C1785.3 721.9 1791.0 726.2 1797.5 731.2C1803.9 736.3 1812.2 743.9 1818.2 750.6C1824.2 757.3 1829.3 764.4 1833.4 771.3C1837.6 778.2 1840.8 786.3 1843.1 792.0C1845.4 797.8 1846.7 801.5 1847.2 805.9C1847.8 810.2 1847.5 815.1 1846.6 818.3C1845.6 821.5 1843.3 823.6 1841.7 825.2C1840.1 826.8 1837.7 827.5 1836.9 828.0" stroke-width="3.4"/>
<path d="M1899.7 645.4C1899.4 643.2 1897.7 637.4 1897.7 632.1C1897.7 626.8 1898.1 618.9 1899.7 613.6C1901.4 608.3 1904.6 604.3 1907.7 600.3C1910.8 596.4 1913.6 592.6 1918.3 589.7C1922.9 586.9 1929.3 583.3 1935.5 583.1C1941.7 582.9 1949.2 585.8 1955.4 588.4C1961.5 591.1 1968.2 596.4 1972.6 599.0C1977.0 601.7 1978.5 601.4 1981.9 604.3C1985.2 607.2 1988.5 611.1 1992.5 616.2C1996.4 621.3 2001.3 627.7 2005.7 634.8C2010.1 641.8 2015.4 651.1 2018.9 658.6C2022.5 666.1 2024.8 673.4 2026.9 679.8C2029.0 686.2 2030.6 691.1 2031.5 697.0C2032.4 703.0 2032.5 709.6 2032.2 715.6C2031.9 721.5 2030.6 727.7 2029.5 732.8C2028.4 737.9 2028.4 742.1 2025.6 746.0C2022.7 750.0 2017.4 754.2 2012.3 756.6C2007.2 759.1 2000.6 760.6 1995.1 760.6C1989.6 760.6 1984.3 758.8 1979.2 756.6C1974.1 754.4 1967.7 749.2 1964.6 747.4C1961.5 745.5 1961.3 745.7 1960.7 745.4" stroke-width="3.4"/>
<path d="M1935.5 583.1C1937.9 581.3 1945.4 574.7 1950.1 572.5C1954.7 570.3 1958.5 569.6 1963.3 569.9C1968.2 570.1 1974.3 572.1 1979.2 573.8C1984.1 575.6 1988.7 577.6 1992.5 580.5C1996.2 583.3 1997.3 586.2 2001.7 591.1C2006.1 595.9 2013.4 602.3 2018.9 609.6C2024.5 616.9 2030.4 626.6 2034.8 634.8C2039.2 642.9 2042.6 651.1 2045.4 658.6C2048.3 666.1 2050.5 675.2 2052.1 679.8C2053.6 684.4 2053.9 682.7 2054.7 686.4C2055.5 690.2 2056.7 697.0 2056.7 702.3C2056.7 707.6 2056.1 713.1 2054.7 718.2C2053.3 723.3 2050.9 728.8 2048.1 732.8C2045.2 736.8 2041.0 739.6 2037.5 742.1C2034.0 744.5 2028.7 746.5 2026.9 747.4" stroke-width="3.4"/>
<path d="M1981.9 603.6L2001.7 592.4" stroke-width="3.4"/>
<path d="M2032.2 697.0L2054.0 686.4" stroke-width="3.4"/>
<path d="M1899.7 645.4C1903.7 643.6 1912.1 642.7 1917.0 642.7C1921.8 642.7 1924.7 643.2 1928.9 645.4C1933.1 647.6 1937.7 652.0 1942.1 656.0C1946.5 659.9 1951.6 664.1 1955.4 669.2C1959.1 674.3 1962.0 680.9 1964.6 686.4C1967.3 691.9 1969.7 696.8 1971.3 702.3C1972.8 707.8 1973.7 714.5 1973.9 719.5C1974.1 724.6 1973.7 729.2 1972.6 732.8C1971.5 736.3 1969.3 738.6 1967.3 740.7C1965.3 742.8 1963.3 744.3 1960.7 745.4C1958.0 746.5 1955.1 747.5 1951.4 747.4C1947.6 747.2 1943.0 746.9 1938.1 744.7C1933.3 742.5 1927.3 738.5 1922.3 734.1C1917.2 729.7 1911.9 723.7 1907.7 718.2C1903.5 712.7 1899.8 706.5 1897.1 701.0C1894.3 695.5 1892.3 690.8 1891.1 685.1C1889.9 679.4 1889.5 671.9 1889.8 666.6C1890.1 661.3 1891.5 656.8 1893.1 653.3C1894.8 649.8 1895.8 647.1 1899.7 645.4Z" stroke-width="3.4"/>
<path d="M1903.7 665.2C1905.3 662.8 1907.2 659.9 1910.3 658.6C1913.4 657.3 1918.3 656.4 1922.3 657.3C1926.2 658.2 1930.2 661.0 1934.2 663.9C1938.1 666.8 1942.6 670.3 1946.1 674.5C1949.6 678.7 1952.9 684.4 1955.4 689.1C1957.8 693.7 1959.6 697.7 1960.7 702.3C1961.8 707.0 1962.4 712.7 1962.0 716.9C1961.5 721.1 1960.0 724.9 1958.0 727.5C1956.0 730.0 1953.2 731.2 1950.1 732.1C1947.0 733.0 1943.0 733.6 1939.5 732.8C1935.9 732.0 1932.4 729.9 1928.9 727.5C1925.3 725.1 1921.4 722.0 1918.3 718.2C1915.2 714.5 1912.8 710.0 1910.3 705.0C1907.9 699.9 1905.3 693.0 1903.7 687.7C1902.2 682.5 1901.1 676.9 1901.1 673.2C1901.1 669.4 1902.2 667.7 1903.7 665.2Z" stroke-width="3.4"/>
<path d="M1918.3 641.4C1920.0 639.6 1924.5 633.4 1928.9 630.8C1933.3 628.1 1939.5 625.7 1944.8 625.5C1950.1 625.3 1955.8 627.0 1960.7 629.5C1965.5 631.9 1969.7 636.1 1973.9 640.1C1978.1 644.0 1982.3 648.5 1985.8 653.3C1989.4 658.2 1992.7 664.3 1995.1 669.2C1997.5 674.1 1999.1 678.0 2000.4 682.5C2001.7 686.9 2002.5 691.3 2003.0 695.7C2003.6 700.1 2004.2 705.2 2003.7 708.9C2003.3 712.7 2002.3 715.6 2000.4 718.2C1998.5 720.9 1995.1 723.1 1992.5 724.8C1989.8 726.6 1987.6 727.0 1984.5 728.8C1981.4 730.6 1977.0 733.2 1973.9 735.4C1970.8 737.6 1968.1 740.3 1966.0 742.1C1963.9 743.8 1962.1 745.1 1961.3 745.8" stroke-width="3.4"/>
<path d="M2069.7 562.9C2070.6 559.5 2072.2 557.0 2074.5 555.3C2076.8 553.5 2080.2 552.6 2083.5 552.5C2086.8 552.4 2091.3 553.4 2094.6 554.6C2097.8 555.7 2100.3 557.7 2102.9 559.4C2105.4 561.1 2107.6 562.7 2109.8 564.9C2112.0 567.1 2114.1 570.0 2116.0 572.5C2117.8 575.1 2119.1 577.4 2120.8 580.1C2122.6 582.9 2124.9 586.1 2126.4 589.1C2127.9 592.1 2128.9 594.7 2129.8 598.1C2130.7 601.6 2131.7 606.3 2131.9 609.9C2132.1 613.4 2132.1 616.8 2131.2 619.5C2130.3 622.3 2128.1 624.5 2126.4 626.4C2124.6 628.4 2123.8 630.1 2120.8 631.3C2117.8 632.4 2112.2 633.7 2108.4 633.4C2104.6 633.0 2101.1 631.1 2098.0 629.2C2094.9 627.4 2092.4 625.0 2089.7 622.3C2087.1 619.7 2084.5 616.8 2082.1 613.3C2079.7 609.9 2077.2 605.6 2075.2 601.6C2073.2 597.5 2071.4 593.5 2070.4 589.1C2069.3 584.7 2069.1 579.7 2069.0 575.3C2068.9 570.9 2068.8 566.2 2069.7 562.9Z" stroke-width="3.3"/>
<path d="M2084.9 576.7C2085.9 574.4 2088.1 573.1 2090.4 572.5C2092.7 572.0 2095.9 572.2 2098.7 573.2C2101.5 574.3 2104.6 576.6 2107.0 578.8C2109.4 580.9 2111.7 583.5 2113.2 586.4C2114.7 589.2 2115.5 592.9 2116.0 596.0C2116.5 599.1 2116.7 602.5 2116.0 605.0C2115.3 607.6 2113.7 610.0 2111.8 611.2C2110.0 612.5 2107.1 612.9 2104.9 612.6C2102.7 612.4 2100.9 611.5 2098.7 609.9C2096.5 608.2 2093.8 605.4 2091.8 602.9C2089.8 600.5 2088.2 598.1 2087.0 595.3C2085.7 592.6 2084.5 589.5 2084.2 586.4C2083.8 583.2 2083.8 579.0 2084.9 576.7Z" stroke-width="4.0"/>
<path d="M2074.5 555.3L2089.0 547.6L2111.2 535.9L2129.1 536.2" stroke-width="3.8"/>
<path d="M2128.5 536.5C2128.9 536.1 2129.0 534.6 2131.3 534.2C2133.6 533.8 2139.5 533.6 2142.3 534.2C2145.1 534.8 2145.9 536.6 2148.0 538.0C2150.2 539.3 2152.9 540.5 2155.0 542.3C2157.0 544.1 2158.5 546.5 2160.1 548.6C2161.8 550.7 2163.5 552.4 2164.7 555.0C2166.0 557.5 2167.0 561.4 2167.9 564.2C2168.9 566.9 2170.0 569.0 2170.5 571.4C2171.0 573.8 2171.0 576.6 2171.1 578.6C2171.2 580.6 2171.4 581.6 2171.0 583.5C2170.6 585.3 2169.5 588.1 2168.8 589.8C2168.1 591.5 2167.7 592.9 2166.9 593.8C2166.0 594.8 2164.1 595.3 2163.6 595.6" stroke-width="3.9"/>
<path d="M2131.5 543.8L2111.2 558.4" stroke-width="3.3"/>
<path d="M2122.2 538.7L2131.5 543.8" stroke-width="3.3"/>
<path d="M2111.2 558.7C2112.2 560.6 2115.3 566.3 2117.4 569.8C2119.4 573.2 2121.7 576.2 2123.6 579.4C2125.4 582.7 2127.1 586.1 2128.4 589.1C2129.8 592.1 2130.9 594.0 2131.5 597.4C2132.2 600.9 2132.2 605.8 2132.2 609.9C2132.3 613.9 2131.9 619.7 2131.9 621.6" stroke-width="3.8"/>
<path d="M2131.9 539.7C2133.4 540.6 2139.1 543.5 2141.1 545.2C2143.2 546.8 2143.1 548.0 2144.3 549.8C2145.4 551.5 2147.0 553.5 2148.0 555.5C2149.1 557.5 2149.7 559.7 2150.6 561.9C2151.6 564.1 2152.9 566.7 2153.8 568.8C2154.7 570.9 2155.5 572.7 2156.1 574.5C2156.7 576.4 2157.3 578.9 2157.5 579.7" stroke-width="3.6"/>
<path d="M2157.5 579.7C2158.0 580.5 2159.8 581.5 2160.4 584.3C2161.1 587.2 2161.4 593.6 2161.4 597.0C2161.4 600.4 2161.3 602.2 2160.6 604.5C2159.9 606.8 2159.1 608.9 2157.1 610.8C2155.1 612.8 2152.1 614.3 2148.6 616.3C2145.2 618.3 2139.3 621.9 2136.5 622.9C2133.8 623.9 2132.9 622.4 2132.2 622.4" stroke-width="4.3"/>
<path d="M2150.3 557.3L2156.1 561.9L2156.1 567.6L2159.6 572.2L2161.3 579.1L2163.0 589.5L2161.9 591.8L2159.6 583.8L2156.1 579.7L2156.1 574.5L2153.8 568.8Z" stroke-width="1.5" fill="#000"/>
<path d="M2148.0 555.0L2151.5 557.0L2154.4 553.8L2158.1 552.6L2161.9 552.6L2165.3 555.0L2164.7 559.6L2159.0 559.0L2156.1 561.9L2152.1 561.9Z" stroke-width="1.5" fill="#000"/>
<path d="M2156.4 580.0L2150.3 583.2L2140.0 588.9L2132.5 593.8" stroke-width="3.3"/>
<path d="M2183.2 478.0L2226.3 524.9"/>
<path d="M2154.1 494.5L2223.8 531.2"/>
<path d="M2226.3 524.9C2227.8 524.7 2232.8 523.6 2235.2 523.6C2237.5 523.6 2238.5 523.2 2240.2 524.9C2241.9 526.6 2244.0 531.0 2245.3 533.8C2246.6 536.5 2247.6 538.8 2247.8 541.4C2248.0 543.9 2247.8 547.3 2246.6 549.0C2245.3 550.7 2242.1 551.7 2240.2 551.5C2238.3 551.3 2236.8 549.6 2235.2 547.7C2233.5 545.8 2232.0 542.8 2230.1 540.1C2228.2 537.5 2224.8 533.2 2223.8 531.9"/>
<path d="M2268.1 477.4L2270.0 477.4" stroke-width="2.0"/>
<path d="M2141.1 150.1L2197.3 480.4" stroke-width="3.0"/>
<path d="M1920.8 292.3L2089.9 537.9" stroke-width="3.0"/>
<path d="M1678.4 429.2L1891.8 607.0" stroke-width="3.0"/>
<path d="M1321.3 622.9L1532.6 810.0" stroke-width="3.0"/>
<path d="M752.2 953.2L1010.8 1167.9" stroke-width="3.0"/>
</g>
<g fill="#000"><rect x="6.5" y="31.7" width="2" height="2"/><rect x="40.2" y="325.7" width="2" height="2"/><rect x="952.9" y="598.9" width="2" height="2"/><rect x="283.4" y="909.5" width="2" height="2"/><rect x="2129.8" y="1157.6" width="2" height="2"/><rect x="1296.2" y="1774.9" width="2" height="2"/><rect x="2185.2" y="859.9" width="2" height="2"/><rect x="2224.0" y="901.1" width="2" height="2"/><rect x="697.6" y="1045.2" width="2" height="2"/><rect x="142.5" y="1799.0" width="2" height="2"/><rect x="159.6" y="1796.2" width="2" height="2"/><rect x="1343.0" y="1.0" width="2" height="2"/></g>
<text transform="translate(1291.6 624.5) scale(0.681 1)" font-family="Liberation Mono" font-size="56.9" font-weight="bold" stroke="#000" stroke-width="0.0">1</text>
<text transform="translate(712.6 948.6) scale(1.012 1)" font-family="Liberation Sans" font-size="55.2" font-weight="normal" stroke="#000" stroke-width="0.9">2</text>
<text transform="translate(1647.7 426.0) scale(1.024 1)" font-family="Liberation Sans" font-size="53.7" font-weight="normal" stroke="#000" stroke-width="0.9">3</text>
<text transform="translate(1888.0 281.2) scale(1.123 1)" font-family="Liberation Sans" font-size="51.6" font-weight="normal" stroke="#000" stroke-width="0.9">4</text>
<text transform="translate(2122.4 135.0) scale(1.009 1)" font-family="Liberation Sans" font-size="54.5" font-weight="normal" stroke="#000" stroke-width="0.9">5</text>
<g aria-label="第">
<path d="M454.3 1762.7L445.1 1771.9" fill="none" stroke="#000" stroke-width="5.0" stroke-linecap="round" stroke-linejoin="round"/>
<path d="M445.1 1772.2L451.0 1772.2" fill="none" stroke="#000" stroke-width="3.0" stroke-linecap="round" stroke-linejoin="round"/>
<path d="M452.9 1764.4L468.0 1764.4" fill="none" stroke="#000" stroke-width="5.0" stroke-linecap="square" stroke-linejoin="round"/>
<path d="M458.1 1766.0L453.9 1773.8" fill="none" stroke="#000" stroke-width="4.0" stroke-linecap="round" stroke-linejoin="round"/>
<path d="M476.0 1762.7L469.7 1766.3" fill="none" stroke="#000" stroke-width="5.0" stroke-linecap="round" stroke-linejoin="round"/>
<path d="M473.7 1764.6L489.2 1765.3" fill="none" stroke="#000" stroke-width="5.2" stroke-linecap="square" stroke-linejoin="round"/>
<path d="M475.6 1766.5L482.2 1770.8L483.8 1774.5" fill="none" stroke="#000" stroke-width="4.0" stroke-linecap="round" stroke-linejoin="round"/>
<path d="M452.9 1773.1L483.6 1773.1" fill="none" stroke="#000" stroke-width="4.6" stroke-linecap="square" stroke-linejoin="round"/>
<path d="M452.5 1766.0L484.1 1766.0L484.1 1772.2L452.5 1772.2ZM462.1 1768.2L468.0 1768.2L468.0 1770.8L462.1 1770.8ZM452.9 1768.9L455.3 1768.9L455.3 1770.8L452.9 1770.8ZM472.7 1768.9L475.1 1768.9L475.1 1770.8L472.7 1770.8Z" fill="#000" fill-rule="evenodd"/>
<path d="M483.3 1773.1L484.1 1782.5" fill="none" stroke="#000" stroke-width="4.6" stroke-linecap="round" stroke-linejoin="round"/>
<path d="M449.2 1782.5L484.5 1782.5" fill="none" stroke="#000" stroke-width="4.8" stroke-linecap="square" stroke-linejoin="round"/>
<path d="M450.3 1781.1L450.3 1791.5" fill="none" stroke="#000" stroke-width="4.8" stroke-linecap="round" stroke-linejoin="round"/>
<path d="M450.1 1791.1L485.9 1791.1" fill="none" stroke="#000" stroke-width="4.8" stroke-linecap="square" stroke-linejoin="round"/>
<path d="M486.2 1791.1L486.7 1799.5L482.6 1802.8L477.7 1802.8L474.2 1798.8" fill="none" stroke="#000" stroke-width="5.0" stroke-linecap="round" stroke-linejoin="round"/>
<path d="M466.6 1768.4L466.6 1805.2" fill="none" stroke="#000" stroke-width="6.2" stroke-linecap="round" stroke-linejoin="round"/>
<path d="M462.4 1793.9L449.6 1805.4" fill="none" stroke="#000" stroke-width="5.6" stroke-linecap="round" stroke-linejoin="round"/>
</g>
<g><text transform="translate(498.1 1804.0) scale(0.798 1.000)" font-family="Liberation Mono" font-weight="normal" font-size="61.0" stroke="#000" stroke-width="2.2" stroke-linejoin="round">R</text><text transform="translate(528.4 1804.4) scale(0.831 1.000)" font-family="Liberation Sans" font-weight="normal" font-size="57.0" stroke="#000" stroke-width="2.4" stroke-linejoin="round">0</text><text transform="translate(556.4 1804.0) scale(0.646 1.000)" font-family="Liberation Mono" font-weight="normal" font-size="61.0" stroke="#000" stroke-width="2.2" stroke-linejoin="round">1</text><text transform="translate(581.9 1804.0) scale(0.656 1.000)" font-family="Liberation Mono" font-weight="normal" font-size="61.0" stroke="#000" stroke-width="2.2" stroke-linejoin="round">1</text><text transform="translate(607.3 1804.4) scale(0.872 1.000)" font-family="Liberation Sans" font-weight="normal" font-size="57.0" stroke="#000" stroke-width="2.4" stroke-linejoin="round">0</text><text transform="translate(623.9 1797.5) scale(1.300 0.922)" font-family="Liberation Mono" font-size="62.0">-</text><text transform="translate(660.0 1804.4) scale(0.821 1.000)" font-family="Liberation Sans" font-weight="normal" font-size="57.0" stroke="#000" stroke-width="2.4" stroke-linejoin="round">0</text><text transform="translate(685.8 1804.0) scale(0.630 1.000)" font-family="Liberation Mono" font-weight="normal" font-size="61.0" stroke="#000" stroke-width="2.2" stroke-linejoin="round">1</text><text transform="translate(710.8 1804.0) scale(0.711 1.000)" font-family="Liberation Mono" font-weight="normal" font-size="61.0" stroke="#000" stroke-width="2.2" stroke-linejoin="round">A</text><text transform="translate(735.3 1804.0) scale(0.816 1.000)" font-family="Liberation Mono" font-weight="normal" font-size="61.0" stroke="#000" stroke-width="2.2" stroke-linejoin="round">2</text></g>
<g aria-label="図">
<rect x="773.3" y="1766.9" width="36.8" height="36.2" rx="2" fill="none" stroke="#000" stroke-width="6"/>
<path d="M781.2 1771.7L787.4 1777.7" fill="none" stroke="#000" stroke-width="4.4" stroke-linecap="round" stroke-linejoin="round"/>
<path d="M789.0 1771.2L797.8 1776.6" fill="none" stroke="#000" stroke-width="4.4" stroke-linecap="round" stroke-linejoin="round"/>
<path d="M804.3 1773.0L795.2 1785.2L782.0 1796.1L778.1 1798.7" fill="none" stroke="#000" stroke-width="4.8" stroke-linecap="round" stroke-linejoin="round"/>
<path d="M780.7 1781.6L787.9 1783.1L795.7 1787.8L804.6 1792.7" fill="none" stroke="#000" stroke-width="4.8" stroke-linecap="round" stroke-linejoin="round"/>
</g>
<g aria-label="参">
<path d="M839.3 1762.1L831.5 1770.4" fill="none" stroke="#000" stroke-width="6.2" stroke-linecap="round" stroke-linejoin="round"/>
<path d="M831.5 1770.9L864.5 1770.9" fill="none" stroke="#000" stroke-width="5.2" stroke-linecap="square" stroke-linejoin="round"/>
<path d="M856.4 1764.7L864.5 1772.5" fill="none" stroke="#000" stroke-width="6.4" stroke-linecap="round" stroke-linejoin="round"/>
<path d="M826.3 1779.5L869.4 1779.5" fill="none" stroke="#000" stroke-width="5.6" stroke-linecap="round" stroke-linejoin="round"/>
<path d="M843.0 1773.8L838.8 1783.7L825.1 1793.5" fill="none" stroke="#000" stroke-width="5.0" stroke-linecap="round" stroke-linejoin="round"/>
<path d="M852.6 1781.8L860.6 1787.8L868.1 1792.7" fill="none" stroke="#000" stroke-width="5.4" stroke-linecap="round" stroke-linejoin="round"/>
<path d="M845.0 1784.4L834.9 1793.0" fill="none" stroke="#000" stroke-width="5.0" stroke-linecap="round" stroke-linejoin="round"/>
<path d="M851.8 1787.5L839.1 1798.7" fill="none" stroke="#000" stroke-width="5.0" stroke-linecap="round" stroke-linejoin="round"/>
<path d="M857.7 1792.2L844.3 1804.2" fill="none" stroke="#000" stroke-width="5.0" stroke-linecap="round" stroke-linejoin="round"/>
</g>
<g aria-label="照">
<path d="M884.0 1763.1L898.0 1763.4L899.1 1765.3L899.1 1774.9L900.6 1763.1L919.8 1763.1L923.1 1766.7L923.1 1776.0L919.8 1779.3L919.8 1791.1L917.9 1795.9L883.3 1794.0L881.1 1791.4L882.2 1769.7L881.1 1769.7L881.1 1766.4ZM887.0 1767.8L893.2 1767.8L894.0 1769.7L894.0 1776.0L892.9 1777.1L887.0 1777.1ZM887.0 1783.3L889.2 1780.8L891.7 1780.8L894.0 1784.1L894.0 1788.9L892.9 1790.0L887.0 1790.0ZM903.2 1778.5L912.4 1767.8L917.2 1767.8L917.2 1771.9L913.5 1771.2L912.0 1773.0L915.0 1777.1L915.0 1780.0L904.3 1780.0ZM905.0 1786.3L906.5 1784.8L913.9 1784.8L915.0 1786.3L915.0 1788.9L913.9 1790.0L906.1 1790.0L905.0 1788.5ZM901.3 1767.8L905.0 1767.8L905.0 1769.7L899.5 1775.2L899.1 1774.9Z" fill="#000" fill-rule="evenodd"/>
<path d="M887.3 1798.4L881.4 1804.3" fill="none" stroke="#000" stroke-width="4.8" stroke-linecap="round" stroke-linejoin="round"/>
<path d="M896.4 1798.8L896.5 1803.6" fill="none" stroke="#000" stroke-width="5.2" stroke-linecap="round" stroke-linejoin="round"/>
<path d="M906.9 1798.6L906.9 1803.6" fill="none" stroke="#000" stroke-width="5.6" stroke-linecap="round" stroke-linejoin="round"/>
<path d="M913.9 1798.4L920.9 1804.0" fill="none" stroke="#000" stroke-width="4.8" stroke-linecap="round" stroke-linejoin="round"/>
</g>
<g><text transform="translate(444.3 1855.8) scale(0.755 1.000)" font-family="Liberation Mono" font-weight="normal" font-size="61.0" stroke="#000" stroke-width="2.2" stroke-linejoin="round">S</text><text transform="translate(470.7 1855.8) scale(0.813 1.000)" font-family="Liberation Mono" font-weight="normal" font-size="61.0" stroke="#000" stroke-width="2.2" stroke-linejoin="round">e</text><text transform="translate(498.6 1855.8) scale(0.846 1.000)" font-family="Liberation Mono" font-weight="normal" font-size="61.0" stroke="#000" stroke-width="2.2" stroke-linejoin="round">e</text><text x="530" y="1855.8" font-size="20"> </text><text transform="translate(551.0 1855.8) scale(0.861 1.000)" font-family="Liberation Mono" font-weight="normal" font-size="61.0" stroke="#000" stroke-width="2.2" stroke-linejoin="round">F</text><text transform="translate(587.9 1855.8) scale(0.946 1.000)" font-family="Liberation Sans" font-weight="bold" font-size="57.5">i</text><text transform="translate(605.3 1855.8) scale(0.891 1.000)" font-family="Liberation Mono" font-weight="normal" font-size="61.0" stroke="#000" stroke-width="2.2" stroke-linejoin="round">g</text><text transform="translate(634.0 1855.8) scale(1.006 1.000)" font-family="Liberation Sans" font-weight="bold" font-size="44.0">.</text><text transform="translate(656.5 1855.8) scale(0.699 1.000)" font-family="Liberation Mono" font-weight="normal" font-size="61.0" stroke="#000" stroke-width="2.2" stroke-linejoin="round">R</text><text transform="translate(683.7 1856.2) scale(0.784 1.000)" font-family="Liberation Sans" font-weight="normal" font-size="57.0" stroke="#000" stroke-width="2.4" stroke-linejoin="round">0</text><text transform="translate(709.0 1855.8) scale(0.633 1.000)" font-family="Liberation Mono" font-weight="normal" font-size="61.0" stroke="#000" stroke-width="2.2" stroke-linejoin="round">1</text><text transform="translate(735.6 1855.8) scale(0.640 1.000)" font-family="Liberation Mono" font-weight="normal" font-size="61.0" stroke="#000" stroke-width="2.2" stroke-linejoin="round">1</text><text transform="translate(761.3 1856.2) scale(0.838 1.000)" font-family="Liberation Sans" font-weight="normal" font-size="57.0" stroke="#000" stroke-width="2.4" stroke-linejoin="round">0</text><text transform="translate(776.5 1850.3) scale(1.335 0.922)" font-family="Liberation Mono" font-size="62.0">-</text><text transform="translate(815.4 1856.2) scale(0.869 1.000)" font-family="Liberation Sans" font-weight="normal" font-size="57.0" stroke="#000" stroke-width="2.4" stroke-linejoin="round">0</text><text transform="translate(843.9 1855.8) scale(0.652 1.000)" font-family="Liberation Mono" font-weight="normal" font-size="61.0" stroke="#000" stroke-width="2.2" stroke-linejoin="round">1</text><text transform="translate(871.1 1855.8) scale(0.714 1.000)" font-family="Liberation Mono" font-weight="normal" font-size="61.0" stroke="#000" stroke-width="2.2" stroke-linejoin="round">A</text><text transform="translate(898.0 1855.8) scale(0.733 1.000)" font-family="Liberation Mono" font-weight="normal" font-size="61.0" stroke="#000" stroke-width="2.2" stroke-linejoin="round">2</text></g>
</svg>
</body></html>
